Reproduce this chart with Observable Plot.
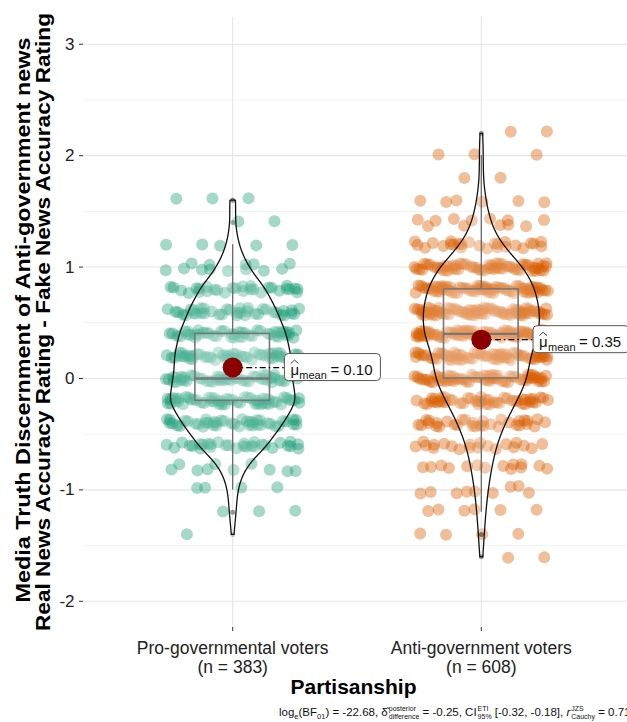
<!DOCTYPE html>
<html><head><meta charset="utf-8">
<script src="https://cdn.jsdelivr.net/npm/d3@7"></script>
<script src="https://cdn.jsdelivr.net/npm/@observablehq/plot@0.6"></script>
<style>
html,body{margin:0;padding:0;background:#fff;overflow:hidden;width:627px;height:722px}
#wrap{position:relative;width:627px;height:722px;overflow:hidden}
#chart{position:absolute;left:0;top:0;width:630px;height:700px}
#caption{position:absolute;left:279px;top:704px;white-space:nowrap;font-family:"Liberation Sans",Arial,sans-serif;font-size:11.5px;color:#111;line-height:16px}
#caption sub{font-size:7.5px;vertical-align:-3px;line-height:0}
.st{display:inline-flex;flex-direction:column;vertical-align:middle;font-size:7px;line-height:7.5px;margin-left:1px}
</style></head><body>
<div id="wrap">
<div id="chart"></div>
<div id="caption">log<sub>e</sub>(BF<sub>01</sub>) = -22.68, δ&#770;<span class="st"><span>posterior</span><span>difference</span></span> = -0.25, CI<span class="st"><span>ETI</span><span>95%</span></span> [-0.32, -0.18], <i>r</i><span class="st"><span>JZS</span><span>Cauchy</span></span> = 0.71</div>
</div>
<script>
// ---- data ----
const groups = ["Pro-governmental voters", "Anti-government voters"];
const groupColors = ["#1B9E77", "#D95F02"];
const proLevels  = [1.6, 1.4, 1.2, 1.0, 0.8, 0.6, 0.4, 0.2, 0.0, -0.2, -0.4, -0.6, -0.8, -1.0, -1.2, -1.4];
const proCounts  = [3,   2,   5,   13,  29,  38,  46,  50,  50,  56,   43,   30,   10,   4,    3,    1];
const antiLevels = [2.2, 2.0, 1.8, 1.6, 1.4, 1.2, 1.0, 0.8, 0.6, 0.4, 0.2, 0.0, -0.2, -0.4, -0.6, -0.8, -1.0, -1.2, -1.4, -1.6];
const antiCounts = [2,   3,   2,   6,   12,  25,  60,  74,  80,  80,  64,  65,  48,   32,   20,   14,   9,    6,    4,    2];
const yTicks = [-2, -1, 0, 1, 2, 3];
const yMinorTicks = [-1.5, -0.5, 0.5, 1.5, 2.5];
const yTitle1 = "Media Truth Discernment of Anti-government news";
const yTitle2 = "Real News Accuracy Rating - Fake News Accuracy Rating";
const xTitle = "Partisanship";

const FONT = '"Liberation Sans", Arial, Helvetica, sans-serif';

function expand(levels, counts) {
  const out = [];
  levels.forEach((v, i) => { for (let k = 0; k < counts[i]; k++) out.push(v); });
  return out;
}
const groupValues = [expand(proLevels, proCounts), expand(antiLevels, antiCounts)];

// jittered display positions (deterministic spread; values themselves are untouched)
const points = groupValues.map((vals, gi) => vals.map((v, i) => {
  const u = ((i + 1) * 0.6180339887 + gi * 0.37 + (i % 7) * 0.113) % 1;
  const w = ((i + 1) * 0.7548776662 + (i % 5) * 0.21) % 1;
  return {pos: gi + 1, value: v, jx: gi + 1 + (u * 2 - 1) * 0.27, jy: v + (w * 2 - 1) * 0.035};
}));

// box statistics
const stats = groupValues.map((vals, gi) => {
  const s = vals.slice().sort(d3.ascending);
  const q1 = d3.quantileSorted(s, 0.25), med = d3.quantileSorted(s, 0.5), q3 = d3.quantileSorted(s, 0.75);
  const iqr = q3 - q1;
  const loF = q1 - 1.5 * iqr - 1e-9, hiF = q3 + 1.5 * iqr + 1e-9;
  const inside = s.filter(v => v >= loF && v <= hiF);
  const outliers = s.filter(v => v < loF || v > hiF).map(v => ({pos: gi + 1, value: v}));
  return {pos: gi + 1, q1, med, q3, lo: d3.min(inside), hi: d3.max(inside), outliers,
          mean: d3.mean(s), n: s.length};
});

// violins: gaussian KDE, bw.nrd0, trimmed, width 0.5
function kde(vals) {
  const n = vals.length;
  const sd = d3.deviation(vals);
  const iqr = d3.quantile(vals, 0.75) - d3.quantile(vals, 0.25);
  const bw = 0.9 * Math.min(sd, iqr / 1.34) * Math.pow(n, -0.2);
  const lo = d3.min(vals), hi = d3.max(vals);
  return d3.range(512).map(i => {
    const y = lo + (hi - lo) * i / 511;
    const d = d3.sum(vals, v => Math.exp(-0.5 * ((y - v) / bw) ** 2)) / (n * bw * Math.sqrt(2 * Math.PI));
    return {y, d};
  });
}
const dens = groupValues.map(kde);
const maxD = d3.max(dens.flat(), d => d.d);
const violinArea = [], violinLine = [];
dens.forEach((arr, gi) => {
  const pos = gi + 1;
  arr.forEach(p => violinArea.push({g: gi, y: p.y, x1: pos - 0.25 * p.d / maxD, x2: pos + 0.25 * p.d / maxD}));
  const right = arr.map(p => ({g: gi, y: p.y, x: pos + 0.25 * p.d / maxD}));
  const left = arr.slice().reverse().map(p => ({g: gi, y: p.y, x: pos - 0.25 * p.d / maxD}));
  violinLine.push(...right, ...left, right[0]);
});

const labelOffset = 0.21;

// custom marks for mean labels and titles
function meanLabels(index, scales, values, dims) {
  const g = d3.create("svg:g").attr("font-family", FONT).attr("fill", "#111").attr("text-anchor", "start");
  stats.forEach(s => {
    const x0 = scales.x(s.pos + labelOffset), yc = scales.y(s.mean);
    const w = 96, h = 27;
    g.append("rect").attr("x", x0).attr("y", yc - h / 2).attr("width", w).attr("height", h)
      .attr("rx", 4).attr("fill", "white").attr("stroke", "#555").attr("stroke-width", 1);
    const bx = x0 + 6, base = yc + 8;
    g.append("path").attr("d", `M${bx + 0.3},${base - 11.5} L${bx + 4.2},${base - 15} L${bx + 8.1},${base - 11.5}`)
      .attr("fill", "none").attr("stroke", "#222").attr("stroke-width", 0.9);
    const t = g.append("text").attr("x", bx).attr("y", base).attr("font-size", 15).attr("text-anchor", "start");
    t.append("tspan").text("μ");
    t.append("tspan").attr("font-size", 11).attr("dy", 3.5).attr("dx", 0.3).text("mean");
    t.append("tspan").attr("dy", -3.5).attr("dx", 3.5).text("= " + s.mean.toFixed(2));
  });
  return g.node();
}

function titles(index, scales, values, dims) {
  const g = d3.create("svg:g").attr("font-family", FONT).attr("font-weight", "bold").attr("fill", "#000");
  const cy = (dims.marginTop + dims.height - dims.marginBottom) / 2;
  g.append("text").attr("transform", `translate(30,${cy - 2}) rotate(-90)`).attr("text-anchor", "middle")
    .attr("font-size", 19.5).attr("textLength", 565).attr("lengthAdjust", "spacingAndGlyphs").text(yTitle1);
  g.append("text").attr("transform", `translate(50,${cy}) rotate(-90)`).attr("text-anchor", "middle")
    .attr("font-size", 19.5).attr("textLength", 618).attr("lengthAdjust", "spacingAndGlyphs").text(yTitle2);
  g.append("text").attr("x", (dims.marginLeft + dims.width - dims.marginRight) / 2 - 3).attr("y", 694)
    .attr("text-anchor", "middle").attr("font-size", 21).text(xTitle);
  return g.node();
}

const chart = Plot.plot({
  width: 630, height: 700,
  marginLeft: 83, marginRight: 0, marginTop: 17, marginBottom: 73,
  x: {type: "linear", domain: [0.4, 2.6]},
  y: {domain: [-2.235, 3.24]},
  style: {fontFamily: FONT, background: "white", color: "#222", overflow: "visible"},
  marks: [
    Plot.gridY({ticks: yMinorTicks, stroke: "#f2f2f2", strokeOpacity: 1, strokeWidth: 1}),
    Plot.gridY({ticks: yTicks, stroke: "#e5e5e5", strokeOpacity: 1, strokeWidth: 1.1}),
    Plot.gridX({ticks: [1, 2], stroke: "#e5e5e5", strokeOpacity: 1, strokeWidth: 1.1}),
    Plot.axisY({ticks: yTicks, tickSize: 4, tickPadding: 5, fontSize: 17, label: null, stroke: "#333", fill: "#222",
      tickFormat: d => String(d)}),
    Plot.axisX({ticks: [1, 2], tickSize: 4, tickPadding: 9, fontSize: 17.5, label: null, stroke: "#333", fill: "#222",
      lineHeight: 1.08, tickFormat: d => `${groups[d - 1]}\n(n = ${stats[d - 1].n})`}),
    // jittered points
    Plot.dot(points[0], {x: "jx", y: "jy", r: 6, fill: groupColors[0], fillOpacity: 0.4}),
    Plot.dot(points[1], {x: "jx", y: "jy", r: 6, fill: groupColors[1], fillOpacity: 0.4}),
    // boxplots
    Plot.ruleX(stats, {x: "pos", y1: "q3", y2: "hi", stroke: "#444", strokeWidth: 1.3}),
    Plot.ruleX(stats, {x: "pos", y1: "lo", y2: "q1", stroke: "#444", strokeWidth: 1.3}),
    Plot.rect(stats, {x1: d => d.pos - 0.15, x2: d => d.pos + 0.15, y1: "q1", y2: "q3",
      fill: "white", fillOpacity: 0.2, stroke: "#555", strokeWidth: 1.6}),
    Plot.ruleY(stats, {y: "med", x1: d => d.pos - 0.15, x2: d => d.pos + 0.15, stroke: "#555", strokeWidth: 2.4}),
    Plot.dot(stats.flatMap(s => s.outliers), {x: "pos", y: "value", r: 2.5, fill: "black", fillOpacity: 0.2}),
    // violins
    Plot.areaX(violinArea, {y: "y", x1: "x1", x2: "x2", z: "g", fill: "white", fillOpacity: 0.2}),
    Plot.line(violinLine, {x: "x", y: "y", z: "g", stroke: "#111", strokeWidth: 1.3}),
    // means
    Plot.link(stats, {x1: "pos", x2: d => d.pos + labelOffset, y1: "mean", y2: "mean",
      stroke: "#000", strokeWidth: 1.2, strokeDasharray: "6,3,1.5,3"}),
    Plot.dot(stats, {x: "pos", y: "mean", r: 10, fill: "#8B0000"}),
    meanLabels,
    titles
  ]
});
document.getElementById("chart").appendChild(chart);
</script>
</body></html>
